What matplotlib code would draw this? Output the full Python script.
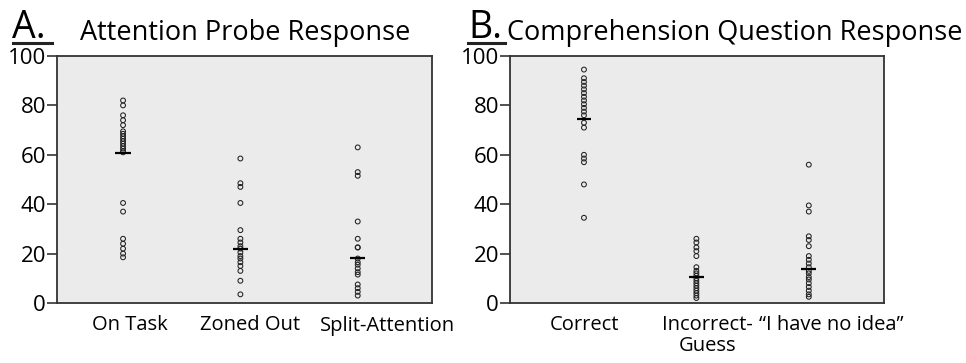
import matplotlib
matplotlib.use("Agg")
import matplotlib.pyplot as plt
from matplotlib.lines import Line2D
from matplotlib.transforms import ScaledTranslation

plt.rcParams['font.family'] = ['Open Sans', 'DejaVu Sans']

# ---- data ----
cats_a = ["On Task", "Zoned Out", "Split-Attention"]
on_task = [82, 80, 76, 74, 72, 69.5, 68.5, 67.5, 66.5, 65.5, 64.5, 63.5, 62.5, 61.5,
           61, 40.5, 37, 26, 24, 22, 20, 18.5]
zoned_out = [58.5, 48.5, 47, 40.5, 29.5, 26, 24.5, 23, 22, 20.5, 19, 18, 16.5, 15,
             13, 9, 3.5]
split_att = [63, 53, 51.5, 33, 26, 22.5, 22.5, 18, 16.5, 15.5, 14, 12.5, 11.5, 7.5,
             6, 4.5, 3]
means_a = [60.6, 21.9, 18.4]

cats_b = ["Correct", "Incorrect-\nGuess", "\u201cI have no idea\u201d"]
correct = [94.5, 91, 89.5, 88, 86.5, 85, 83.5, 82, 80.5, 79, 77.5, 76, 73, 71,
           60, 58.5, 57, 48, 34.5]
incorrect = [26, 24.5, 22.5, 21, 19, 14.5, 13, 12, 11, 10, 9, 8, 7, 6, 5, 4, 3, 2]
no_idea = [56, 39.5, 37, 27, 25.5, 23, 19, 17.5, 16, 14.5, 13, 12, 10.5, 9.5, 8,
           6.5, 5, 3.5, 2.5]
means_b = [74.4, 10.7, 13.8]

yticks = [0, 20, 40, 60, 80, 100]

W, H = 966, 363
fig = plt.figure(figsize=(W / 100, H / 100), dpi=100)


def make_axes(x0, x1, y_top, y_bot):
    return fig.add_axes([x0 / W, (H - y_bot) / H, (x1 - x0) / W, (y_bot - y_top) / H])


def panel(ax, cats, series, means, xlim, label_dx):
    ax.set_facecolor("#ebebeb")
    for i, vals in enumerate(series):
        ax.scatter([i + 1] * len(vals), vals, s=12, facecolors="none",
                   edgecolors="#222222", linewidths=0.75, zorder=3)
    ax.hlines(means, [i + 1 - 0.065 for i in range(len(means))],
              [i + 1 + 0.065 for i in range(len(means))],
              colors="black", linewidth=1.6, zorder=4)
    ax.set_xlim(*xlim)
    ax.set_ylim(0, 100)
    ax.set_yticks(yticks)
    ax.set_yticklabels([str(t) for t in yticks], fontsize=16)
    ax.set_xticks(range(1, len(cats) + 1))
    ax.set_xticklabels(cats, fontsize=14.5, linespacing=1.05)
    ax.tick_params(axis="x", length=0, pad=9)
    ax.tick_params(axis="y", length=7, width=1.2, pad=1, color="#333333")
    for lab, dx in zip(ax.get_xticklabels(), label_dx):
        lab.set_transform(lab.get_transform() + ScaledTranslation(dx / 100, 0, fig.dpi_scale_trans))
    for sp in ax.spines.values():
        sp.set_linewidth(1.3)
        sp.set_color("#333333")


ax1 = make_axes(57, 432, 56, 303)
panel(ax1, cats_a, [on_task, zoned_out, split_att], means_a, (0.437, 3.633), [7, 10, 30])

ax2 = make_axes(510, 884, 56, 303)
panel(ax2, cats_b, [correct, incorrect, no_idea], means_b, (0.342, 3.669), [1, 11, 22])

# titles
fig.text(12 / W, 1 - 38 / H, "A.", fontsize=27, ha="left", va="baseline")
fig.add_artist(Line2D([13 / W, 52 / W], [1 - 43 / H, 1 - 43 / H], color="#222222", lw=2.2))
fig.text(80 / W, 1 - 40 / H, "Attention Probe Response", fontsize=19.5, ha="left", va="baseline")

fig.text(468 / W, 1 - 38 / H, "B.", fontsize=27, ha="left", va="baseline")
fig.add_artist(Line2D([468 / W, 505 / W], [1 - 43 / H, 1 - 43 / H], color="#222222", lw=2.2))
fig.text(507 / W, 1 - 40 / H, "Comprehension Question Response", fontsize=19.5, ha="left", va="baseline")

fig.savefig("out.png", dpi=100)
